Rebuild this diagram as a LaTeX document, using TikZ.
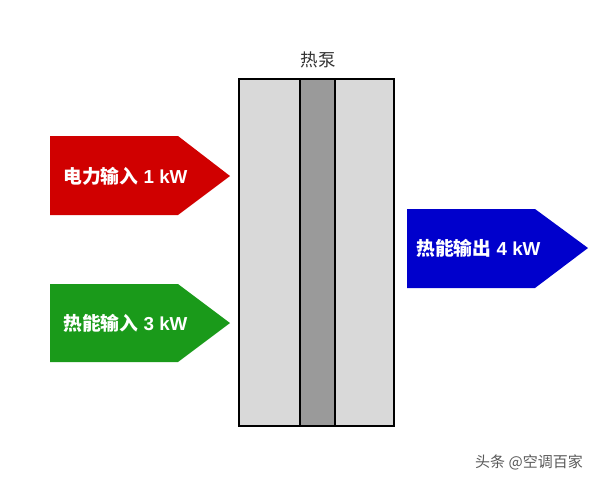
\documentclass[tikz,border=0pt]{standalone}
\usepackage{fontspec}
\setmainfont{Noto Sans CJK SC}
\newfontfamily\cjk{Noto Sans CJK SC}
\newfontfamily\latf{Liberation Sans}
\definecolor{cred}{HTML}{D00000}
\definecolor{cgreen}{HTML}{1A9A1A}
\definecolor{cblue}{HTML}{0000CC}
\definecolor{clight}{HTML}{D9D9D9}
\definecolor{cdark}{HTML}{9A9A9A}
\newcommand{\lab}[2]{{\cjk\bfseries #1}{\latf\bfseries\ #2}}
\begin{document}
\begin{tikzpicture}[x=1pt,y=-1pt,
  lbl/.style={text=white,font=\fontsize{18.8}{20}\selectfont,anchor=west,inner sep=0pt},
  panel/.style={draw=black,line width=1.2pt}]
\useasboundingbox (0,0) rectangle (600,485);
% heat pump box
\filldraw[panel,fill=clight] (239,79) rectangle (300,426);
\filldraw[panel,fill=cdark] (300,79) rectangle (335,426);
\filldraw[panel,fill=clight] (335,79) rectangle (394,426);
\node[font=\cjk\fontsize{17.5}{19}\selectfont,text=black!80] (title) at (318,60) {热泵};
% red arrow
\fill[cred] (50,136) -- (178,136) -- (230,176) -- (178,215) -- (50,215) -- cycle;
\node[lbl] (elec) at (63,176) {\lab{电力输入}{1 kW}};
% green arrow
\fill[cgreen] (50,284) -- (178,284) -- (230,323) -- (178,362) -- (50,362) -- cycle;
\node[lbl] (heatin) at (63,323) {\lab{热能输入}{3 kW}};
% blue arrow
\fill[cblue] (407,209) -- (535,209) -- (588,248) -- (535,288) -- (407,288) -- cycle;
\node[lbl] (heatout) at (416,248) {\lab{热能输出}{4 kW}};
% watermark
\node[font=\cjk\fontsize{15}{17}\selectfont,text=black!65,anchor=west,inner sep=0pt] (wm) at (475,462) {头条 @空调百家};
\end{tikzpicture}
\end{document}
